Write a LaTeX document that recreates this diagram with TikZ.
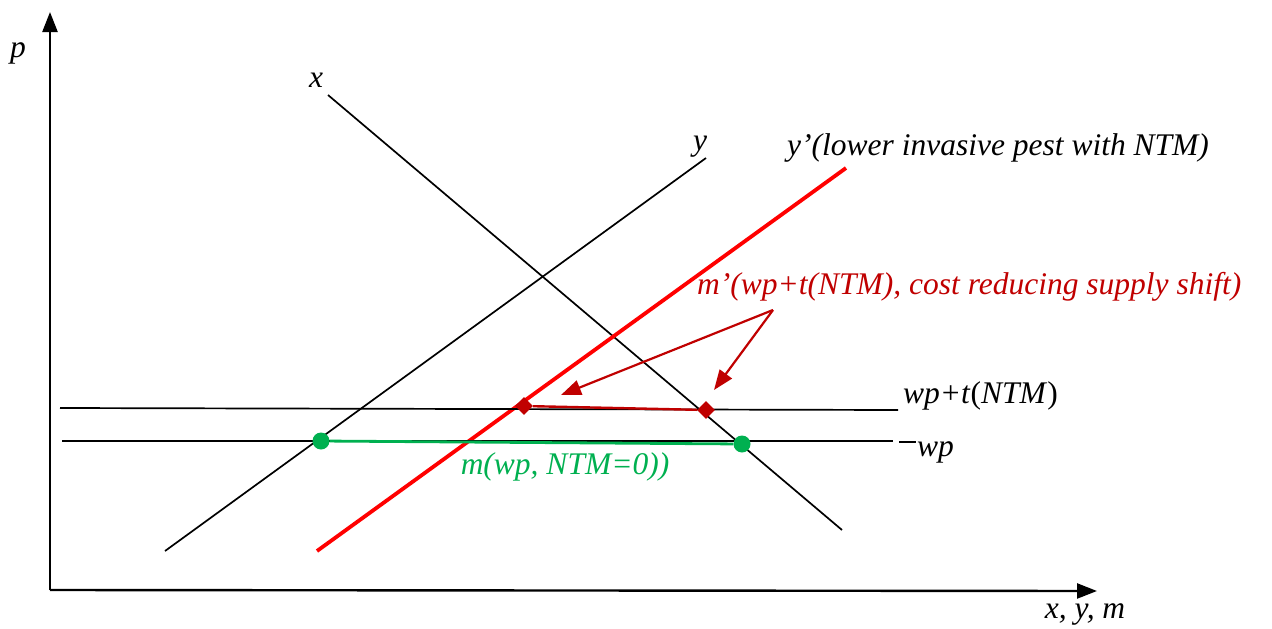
\documentclass[tikz,border=0pt]{standalone}
\usepackage{fontspec}
\setmainfont{Liberation Serif}
\usetikzlibrary{arrows.meta,shapes.geometric}
\definecolor{dred}{HTML}{C00000}
\definecolor{mgreen}{HTML}{00B050}
\tikzset{
  axis/.style={line width=2.4pt,-{Triangle[length=20pt,width=15pt]}},
  curve/.style={line width=1.7pt,black},
  lbl/.style={inner sep=0pt,font=\fontsize{31.5}{36}\selectfont\itshape},
  redlbl/.style={lbl,text=dred},
  dot/.style={circle,fill=mgreen,inner sep=0pt,minimum size=17pt},
  dia/.style={diamond,fill=dred,inner sep=0pt,minimum size=18pt},
  pointer/.style={dred,line width=2.2pt,-{Triangle[length=20pt,width=15pt]}}
}
\begin{document}
\begin{tikzpicture}[x=1pt,y=-1pt]
\useasboundingbox (0,0) rectangle (1272,629);
% axes
\coordinate (O) at (50,590);
\coordinate (ytop) at (50,12);
\coordinate (xend) at (1097,591);
\draw[axis] (O) -- (ytop);
\draw[axis] (O) -- (xend);
\node[lbl] (plab) at (18,53) {p};
\node[lbl] (xylab) at (1085,614) {x, y, m};
% demand x
\coordinate (x1) at (328,95);
\coordinate (x2) at (842,530);
\draw[curve] (x1) -- (x2);
\node[lbl] (xlab) at (316,80) {x};
% supply y
\coordinate (y1) at (165,551);
\coordinate (y2) at (706,158);
\draw[curve] (y1) -- (y2);
\node[lbl] (ylab) at (700,147) {y};
% supply y'
\coordinate (yp1) at (317,551);
\coordinate (yp2) at (846,168);
\draw[red,line width=3.8pt] (yp1) -- (yp2);
\node[lbl,anchor=west] (yplab) at (787,148) {y’(lower invasive pest with NTM)};
% price lines
\coordinate (wt1) at (60,408);
\coordinate (wt2) at (898,410);
\draw[curve] (wt1) -- (wt2);
\node[lbl,anchor=west] (wtlab) at (903,396) {wp+t\textup{(}NTM\textup{)}};
\coordinate (w1) at (62,441);
\coordinate (w2) at (893,441);
\coordinate (w3) at (899,442);
\coordinate (w4) at (916,442);
\draw[curve] (w1) -- (w2);
\draw[curve] (w3) -- (w4);
\node[lbl,anchor=west] (wlab) at (917,452) {wp};
% green imports
\node[dot] (g1) at (321,441) {};
\node[dot] (g2) at (742,444) {};
\draw[mgreen,line width=2.8pt] (g1) -- (g2);
\node[lbl,text=mgreen] (glab) at (565,467) {m(wp, NTM=0))};
% red imports
\node[dia] (r1) at (524,406) {};
\node[dia] (r2) at (706,410) {};
\draw[dred,line width=2.4pt] (r1) -- (r2);
\node[redlbl,anchor=west] (rlab) at (697,287) {m’(wp+t(NTM), cost reducing supply shift)};
\coordinate (apex) at (773,310);
\coordinate (t1) at (561,395);
\coordinate (t2) at (714,390);
\draw[pointer] (apex) -- (t1);
\draw[pointer] (apex) -- (t2);
\end{tikzpicture}
\end{document}
